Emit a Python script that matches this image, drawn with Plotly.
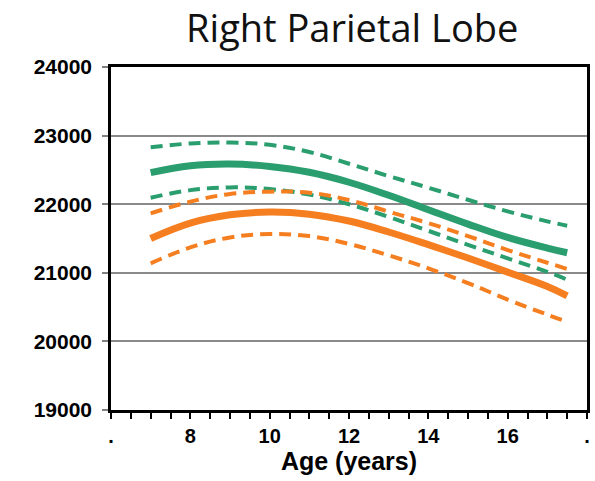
import plotly.graph_objects as go

# Age in years
age = [7, 8, 9, 10, 11, 12, 13, 14, 15, 16, 17, 17.5]

# Right parietal lobe volume, group 1 (green): mean and confidence band
green_mean = [22460, 22560, 22585, 22550, 22465, 22320, 22130, 21920, 21710, 21515, 21360, 21292]
green_upper = [22830, 22885, 22900, 22865, 22760, 22590, 22410, 22240, 22065, 21895, 21750, 21687]
green_lower = [22095, 22205, 22245, 22220, 22140, 22000, 21815, 21612, 21408, 21210, 21015, 20900]

# Group 2 (orange): mean and confidence band
orange_mean = [21500, 21725, 21845, 21885, 21855, 21755, 21595, 21410, 21215, 21010, 20800, 20665]
orange_upper = [21866, 22037, 22149, 22183, 22168, 22061, 21891, 21725, 21536, 21332, 21147, 21055]
orange_lower = [21138, 21370, 21515, 21565, 21535, 21420, 21255, 21065, 20850, 20610, 20390, 20287]

# Axis ticks
x_tickvals = [6, 8, 10, 12, 14, 16, 18]
x_ticktext = [".", "8", "10", "12", "14", "16", "."]
y_tickvals = [19000, 20000, 21000, 22000, 23000, 24000]
y_ticktext = ["19000", "20000", "21000", "22000", "23000", "24000"]

GREEN = "#2a9e6e"
ORANGE = "#f57f20"
DASH = "12px,7px"

fig = go.Figure()


def add_line(y, color, width, dash=None):
    fig.add_trace(go.Scatter(
        x=age, y=y, mode="lines",
        line=dict(color=color, width=width, dash=dash, shape="spline", smoothing=1.1),
        showlegend=False, hoverinfo="skip",
    ))


add_line(green_upper, GREEN, 4, DASH)
add_line(green_lower, GREEN, 4, DASH)
add_line(orange_upper, ORANGE, 4, DASH)
add_line(orange_lower, ORANGE, 4, DASH)
add_line(green_mean, GREEN, 7)
add_line(orange_mean, ORANGE, 7)

FAMILY = "Liberation Sans, Arial, sans-serif"

fig.update_layout(
    width=595, height=481,
    margin=dict(l=111, r=5, t=67, b=71),
    paper_bgcolor="white", plot_bgcolor="white",
    title=dict(
        text="Right Parietal Lobe",
        font=dict(family="Open Sans, Lato, sans-serif", size=38, color="#111111"),
        x=0.592, xanchor="center", y=0.94, yanchor="middle",
    ),
    xaxis=dict(
        range=[6, 18], tickvals=x_tickvals, ticktext=x_ticktext,
        ticks="outside", ticklen=6, tickwidth=1.5, tickcolor="#000000",
        minor=dict(dtick=0.5, ticks="outside", ticklen=6, tickwidth=1.5, tickcolor="#000000"),
        showline=True, linecolor="#000000", linewidth=2.5, mirror=True,
        showgrid=False, zeroline=False,
        tickfont=dict(family=FAMILY, size=20, color="#000000", weight="bold"),
        title=dict(text="<b>Age (years)</b>", standoff=6,
                   font=dict(family=FAMILY, size=25, color="#000000")),
    ),
    yaxis=dict(
        range=[19000, 24000], tickvals=y_tickvals, ticktext=y_ticktext,
        ticks="outside", ticklen=6, tickwidth=1.5, tickcolor="#808080",
        ticklabelstandoff=6,
        showline=True, linecolor="#000000", linewidth=2.5, mirror=True,
        showgrid=True, gridcolor="#8a8a8a", gridwidth=1.5, zeroline=False,
        tickfont=dict(family=FAMILY, size=21, color="#000000", weight="bold"),
    ),
)

fig.write_html("out.html")
